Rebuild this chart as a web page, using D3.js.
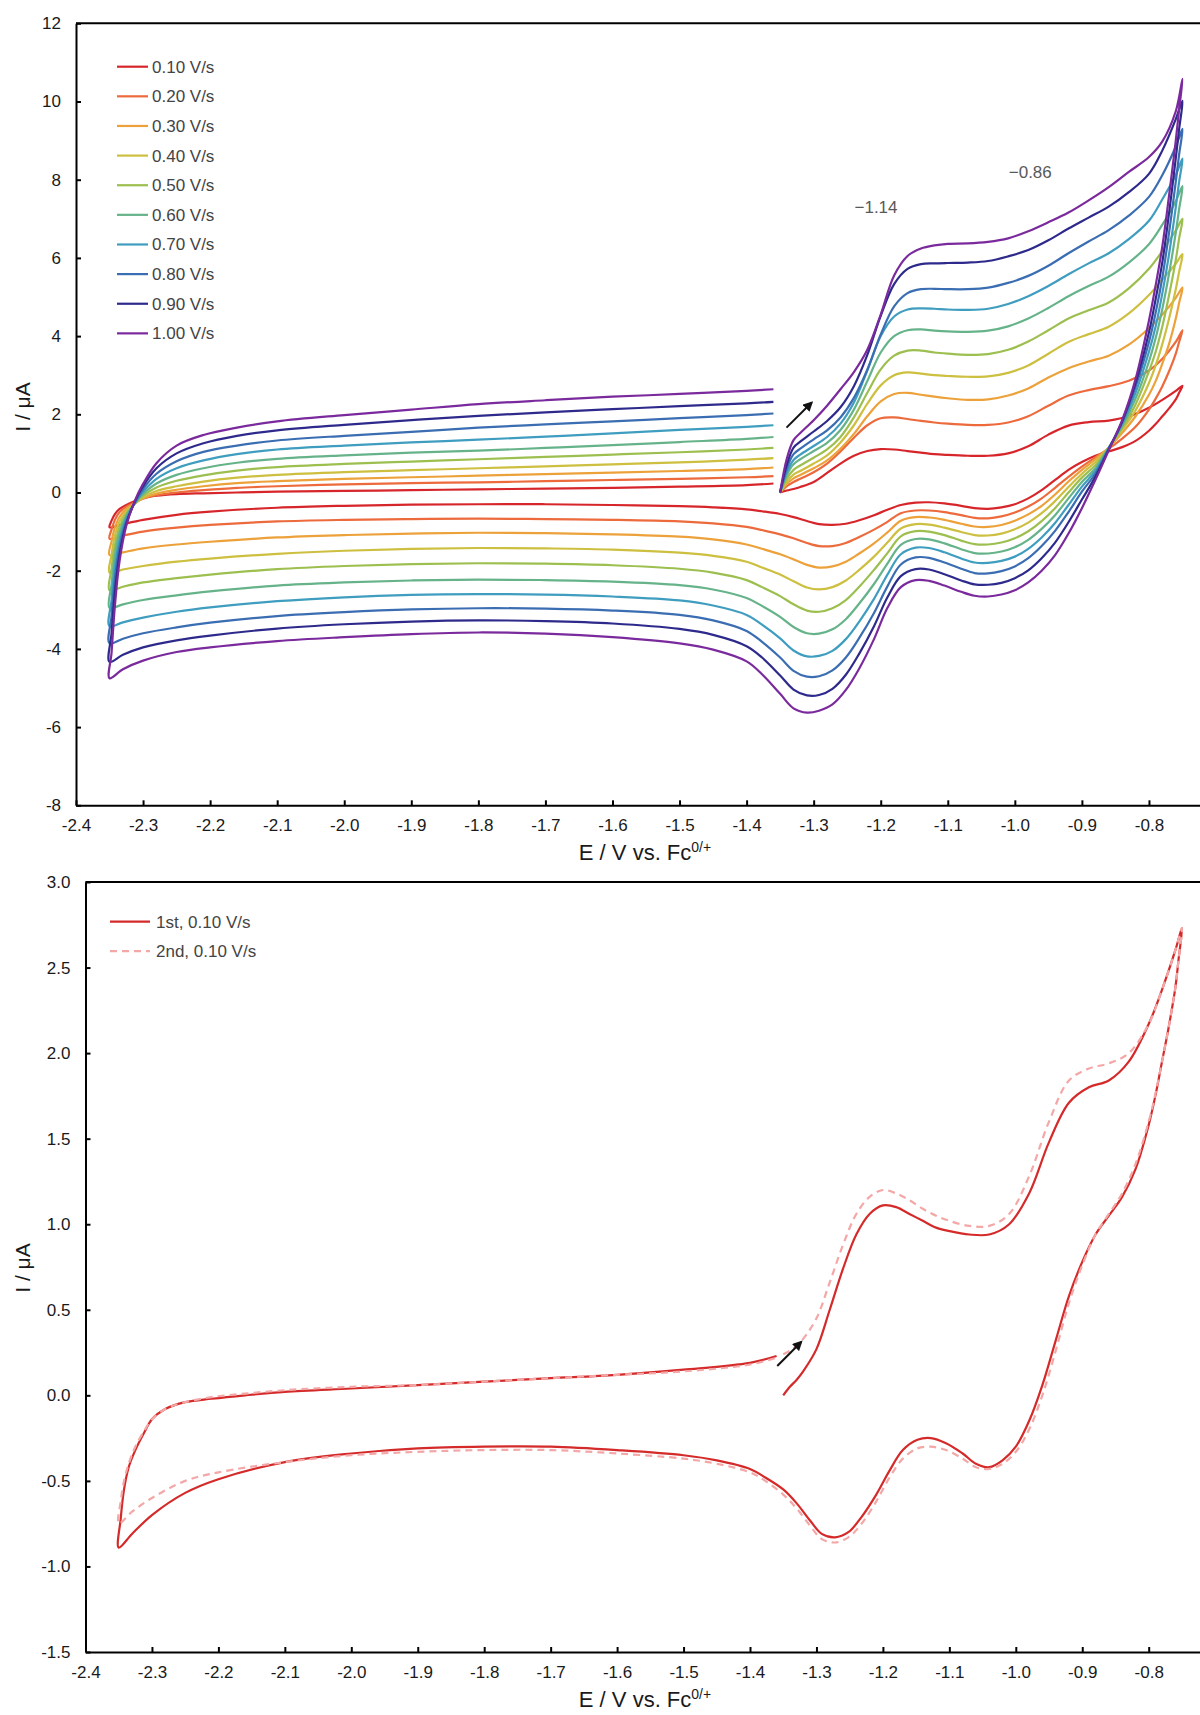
<!DOCTYPE html>
<html>
<head>
<meta charset="utf-8">
<script src="https://cdn.jsdelivr.net/npm/d3@7"></script>
<style>
  html, body { margin: 0; padding: 0; background: #ffffff; }
  svg { display: block; font-family: "Liberation Sans", Arial, Helvetica, sans-serif; }
</style>
</head>
<body>
<svg id="fig" width="1200" height="1715"></svg>
<script>
// ---------------------------------------------------------------------------
// Potential program of the cyclic voltammograms (V vs. Fc0/+):
// start at -1.35 V, sweep anodic to -0.75 V, back to -2.35 V, then up to -1.36 V.
// ---------------------------------------------------------------------------
const potentialForward = [-1.35, -1.34, -1.33, -1.32, -1.30, -1.28, -1.26, -1.24, -1.22, -1.20,
  -1.18, -1.16, -1.14, -1.12, -1.10, -1.07, -1.04, -1.01, -0.98, -0.95, -0.92, -0.89, -0.86,
  -0.83, -0.80, -0.78, -0.76, -0.75];
const potentialReverse = [-0.755, -0.76, -0.77, -0.78, -0.79, -0.80, -0.82, -0.84, -0.86, -0.88,
  -0.90, -0.92, -0.94, -0.96, -0.98, -1.00, -1.02, -1.04, -1.06, -1.08, -1.105, -1.128, -1.148, -1.17,
  -1.19, -1.21, -1.232, -1.252, -1.272, -1.292, -1.31, -1.33, -1.35, -1.377,
  -1.40, -1.45, -1.50, -1.60, -1.70, -1.80, -1.90, -2.00, -2.10, -2.20, -2.25, -2.30, -2.33, -2.35];
const potentialReturn = [-2.347, -2.342, -2.335, -2.325, -2.312, -2.30, -2.28, -2.25, -2.21, -2.16,
  -2.10, -2.00, -1.90, -1.80, -1.70, -1.60, -1.50, -1.40, -1.36];

// Currents (µA) along that program, one array per scan rate.
const current010 = [
  0.00, 0.05, 0.09, 0.14, 0.27, 0.50, 0.74, 0.94, 1.06, 1.11, 1.10, 1.06, 1.02, 0.98, 0.96, 0.94, 0.94, 1.00, 1.18, 1.48, 1.71, 1.80, 1.84, 1.95, 2.17, 2.37, 2.60, 2.73,
  2.55, 2.38, 2.15, 1.95, 1.75, 1.58, 1.32, 1.16, 1.05, 0.94,
  0.78, 0.58, 0.32, 0.06, -0.15, -0.30, -0.38, -0.42, -0.40, -0.34, -0.28, -0.25, -0.26, -0.32,
  -0.44, -0.58, -0.71, -0.80, -0.83, -0.81, -0.73, -0.63, -0.55, -0.48,
  -0.43, -0.38, -0.35, -0.32, -0.30, -0.30, -0.31, -0.34, -0.39, -0.49, -0.57, -0.70, -0.81, -0.89,
  -0.72, -0.55, -0.42, -0.32, -0.22, -0.14, -0.08, -0.04, -0.02, 0.00, 0.02, 0.04, 0.06, 0.08, 0.10, 0.12, 0.15, 0.19, 0.23];
const current020 = [
  0.00, 0.16, 0.27, 0.35, 0.52, 0.74, 1.05, 1.40, 1.72, 1.90, 1.92, 1.88, 1.83, 1.79, 1.76, 1.73, 1.73, 1.79, 1.95, 2.22, 2.48, 2.62, 2.72, 2.86, 3.12, 3.42, 3.85, 4.15,
  3.85, 3.55, 3.10, 2.72, 2.40, 2.12, 1.68, 1.38, 1.12, 0.90,
  0.66, 0.40, 0.12, -0.15, -0.36, -0.51, -0.61, -0.66, -0.65, -0.58, -0.50, -0.46, -0.46, -0.53,
  -0.75, -0.95, -1.14, -1.29, -1.37, -1.37, -1.29, -1.17, -1.07, -0.96,
  -0.88, -0.79, -0.74, -0.70, -0.68, -0.67, -0.68, -0.70, -0.74, -0.83, -0.90, -1.00, -1.10, -1.18,
  -0.95, -0.70, -0.50, -0.36, -0.25, -0.16, -0.07, 0.00, 0.06, 0.12, 0.16, 0.21, 0.24, 0.26, 0.29, 0.32, 0.35, 0.39, 0.42];
const current030 = [
  0.00, 0.22, 0.36, 0.45, 0.62, 0.82, 1.12, 1.50, 1.95, 2.33, 2.52, 2.55, 2.50, 2.45, 2.41, 2.37, 2.38, 2.48, 2.66, 2.94, 3.18, 3.35, 3.50, 3.78, 4.20, 4.55, 4.98, 5.24,
  4.85, 4.45, 3.80, 3.30, 2.85, 2.50, 1.95, 1.52, 1.15, 0.85,
  0.58, 0.28, -0.05, -0.34, -0.56, -0.72, -0.83, -0.88, -0.87, -0.80, -0.70, -0.64, -0.63, -0.72,
  -1.02, -1.30, -1.56, -1.77, -1.89, -1.92, -1.85, -1.71, -1.58, -1.44,
  -1.33, -1.20, -1.13, -1.07, -1.04, -1.03, -1.05, -1.09, -1.15, -1.26, -1.33, -1.43, -1.53, -1.60,
  -1.25, -0.90, -0.62, -0.42, -0.27, -0.15, -0.03, 0.07, 0.16, 0.24, 0.29, 0.35, 0.39, 0.43, 0.47, 0.51, 0.55, 0.60, 0.64];
const current040 = [
  0.00, 0.28, 0.46, 0.55, 0.74, 0.95, 1.28, 1.72, 2.27, 2.74, 3.00, 3.07, 3.04, 3.00, 2.98, 2.96, 2.97, 3.06, 3.25, 3.55, 3.85, 4.05, 4.24, 4.58, 5.05, 5.45, 5.85, 6.10,
  5.65, 5.20, 4.45, 3.80, 3.25, 2.80, 2.10, 1.60, 1.15, 0.78,
  0.48, 0.14, -0.22, -0.53, -0.77, -0.94, -1.05, -1.10, -1.09, -1.01, -0.90, -0.82, -0.81, -0.92,
  -1.28, -1.64, -1.98, -2.25, -2.42, -2.48, -2.43, -2.27, -2.10, -1.92,
  -1.77, -1.62, -1.54, -1.46, -1.43, -1.42, -1.44, -1.49, -1.57, -1.69, -1.77, -1.88, -1.97, -2.05,
  -1.60, -1.10, -0.74, -0.48, -0.28, -0.12, 0.04, 0.16, 0.28, 0.38, 0.45, 0.52, 0.57, 0.62, 0.67, 0.72, 0.77, 0.84, 0.88];
const current050 = [
  0.00, 0.36, 0.58, 0.69, 0.89, 1.10, 1.42, 1.92, 2.55, 3.15, 3.50, 3.63, 3.63, 3.58, 3.55, 3.52, 3.54, 3.65, 3.86, 4.15, 4.45, 4.66, 4.86, 5.22, 5.72, 6.18, 6.70, 7.00,
  6.50, 5.95, 5.05, 4.25, 3.60, 3.10, 2.25, 1.65, 1.15, 0.70,
  0.38, 0.00, -0.40, -0.73, -0.99, -1.17, -1.28, -1.33, -1.32, -1.23, -1.09, -1.00, -0.99, -1.12,
  -1.55, -1.98, -2.41, -2.75, -2.96, -3.05, -3.02, -2.86, -2.65, -2.42,
  -2.24, -2.05, -1.95, -1.86, -1.82, -1.81, -1.83, -1.88, -1.96, -2.10, -2.19, -2.30, -2.41, -2.50,
  -1.95, -1.35, -0.88, -0.54, -0.28, -0.08, 0.13, 0.30, 0.44, 0.56, 0.65, 0.73, 0.79, 0.85, 0.91, 0.97, 1.03, 1.10, 1.14];
const current060 = [
  0.00, 0.45, 0.72, 0.85, 1.06, 1.27, 1.60, 2.12, 2.85, 3.58, 4.00, 4.15, 4.17, 4.14, 4.12, 4.11, 4.14, 4.25, 4.45, 4.72, 5.02, 5.28, 5.52, 5.88, 6.35, 6.85, 7.45, 7.84,
  7.25, 6.65, 5.60, 4.70, 3.95, 3.35, 2.40, 1.70, 1.15, 0.62,
  0.27, -0.15, -0.58, -0.93, -1.21, -1.40, -1.51, -1.56, -1.55, -1.45, -1.30, -1.20, -1.19, -1.34,
  -1.82, -2.34, -2.84, -3.24, -3.50, -3.61, -3.60, -3.44, -3.18, -2.90,
  -2.70, -2.48, -2.37, -2.28, -2.24, -2.23, -2.25, -2.30, -2.38, -2.53, -2.63, -2.75, -2.86, -2.95,
  -2.35, -1.60, -1.02, -0.60, -0.27, -0.04, 0.23, 0.45, 0.62, 0.76, 0.86, 0.95, 1.02, 1.07, 1.14, 1.21, 1.29, 1.37, 1.42];
const current070 = [
  0.00, 0.52, 0.83, 0.97, 1.19, 1.42, 1.76, 2.30, 3.12, 4.00, 4.50, 4.68, 4.71, 4.70, 4.68, 4.67, 4.70, 4.82, 5.02, 5.28, 5.58, 5.86, 6.12, 6.48, 6.95, 7.50, 8.12, 8.54,
  7.95, 7.30, 6.10, 5.10, 4.25, 3.60, 2.55, 1.75, 1.13, 0.55,
  0.15, -0.32, -0.78, -1.15, -1.44, -1.64, -1.75, -1.80, -1.79, -1.69, -1.53, -1.42, -1.41, -1.58,
  -2.10, -2.72, -3.30, -3.75, -4.05, -4.18, -4.19, -4.04, -3.73, -3.38,
  -3.13, -2.89, -2.76, -2.66, -2.61, -2.60, -2.62, -2.68, -2.78, -2.94, -3.05, -3.20, -3.32, -3.42,
  -2.75, -1.90, -1.20, -0.66, -0.26, 0.02, 0.35, 0.62, 0.82, 0.98, 1.10, 1.20, 1.28, 1.35, 1.43, 1.51, 1.60, 1.68, 1.72];
const current080 = [
  0.00, 0.62, 0.98, 1.12, 1.36, 1.59, 1.92, 2.42, 3.14, 4.04, 4.76, 5.10, 5.20, 5.21, 5.20, 5.20, 5.24, 5.36, 5.54, 5.80, 6.12, 6.42, 6.71, 7.08, 7.56, 8.12, 8.85, 9.30,
  8.65, 7.95, 6.65, 5.50, 4.60, 3.85, 2.70, 1.80, 1.12, 0.48,
  0.02, -0.50, -0.98, -1.37, -1.68, -1.89, -2.01, -2.07, -2.06, -1.95, -1.79, -1.67, -1.66, -1.84,
  -2.40, -3.08, -3.72, -4.22, -4.55, -4.70, -4.71, -4.56, -4.22, -3.82,
  -3.54, -3.27, -3.13, -3.02, -2.97, -2.96, -2.99, -3.06, -3.16, -3.33, -3.45, -3.60, -3.74, -3.86,
  -3.15, -2.20, -1.38, -0.74, -0.25, 0.09, 0.48, 0.80, 1.04, 1.20, 1.33, 1.45, 1.55, 1.66, 1.74, 1.82, 1.90, 1.98, 2.02];
const current090 = [
  0.00, 0.72, 1.15, 1.30, 1.56, 1.83, 2.18, 2.72, 3.52, 4.52, 5.33, 5.72, 5.84, 5.86, 5.87, 5.88, 5.92, 6.04, 6.20, 6.45, 6.75, 7.03, 7.31, 7.68, 8.15, 8.75, 9.55, 10.02,
  9.30, 8.55, 7.15, 5.90, 4.95, 4.10, 2.80, 1.82, 1.10, 0.40,
  -0.18, -0.76, -1.28, -1.68, -1.99, -2.19, -2.31, -2.36, -2.35, -2.25, -2.09, -1.97, -1.96, -2.14,
  -2.68, -3.42, -4.12, -4.66, -5.02, -5.18, -5.19, -5.04, -4.68, -4.22,
  -3.93, -3.64, -3.49, -3.35, -3.29, -3.27, -3.30, -3.37, -3.48, -3.66, -3.78, -3.96, -4.15, -4.33,
  -3.60, -2.55, -1.57, -0.80, -0.22, 0.16, 0.62, 1.00, 1.26, 1.45, 1.59, 1.73, 1.85, 1.96, 2.05, 2.13, 2.21, 2.28, 2.32];
const current100 = [
  0.00, 0.87, 1.34, 1.52, 1.85, 2.22, 2.64, 3.08, 3.65, 4.55, 5.55, 6.05, 6.24, 6.32, 6.36, 6.37, 6.41, 6.50, 6.68, 6.91, 7.16, 7.47, 7.81, 8.20, 8.58, 8.98, 9.75, 10.58,
  9.80, 9.00, 7.60, 6.30, 5.30, 4.40, 2.90, 1.85, 1.08, 0.32,
  -0.40, -1.05, -1.60, -2.00, -2.30, -2.50, -2.61, -2.66, -2.64, -2.54, -2.38, -2.26, -2.24, -2.42,
  -2.95, -3.75, -4.50, -5.05, -5.42, -5.58, -5.63, -5.52, -5.15, -4.65,
  -4.32, -4.02, -3.86, -3.70, -3.61, -3.58, -3.62, -3.70, -3.80, -3.96, -4.08, -4.30, -4.52, -4.75,
  -4.10, -2.90, -1.75, -0.85, -0.20, 0.22, 0.75, 1.20, 1.47, 1.66, 1.82, 1.98, 2.12, 2.26, 2.36, 2.45, 2.52, 2.60, 2.64];

const scanRateLabels = ["0.10 V/s", "0.20 V/s", "0.30 V/s", "0.40 V/s", "0.50 V/s",
  "0.60 V/s", "0.70 V/s", "0.80 V/s", "0.90 V/s", "1.00 V/s"];
const scanCurrents = [current010, current020, current030, current040, current050,
  current060, current070, current080, current090, current100];

// Second cycle at 0.10 V/s (the first cycle is current010).
const cycleLabels = ["1st, 0.10 V/s", "2nd, 0.10 V/s"];
const current2ndCycle = [
  0.24, 0.26, 0.29, 0.33, 0.45, 0.66, 0.88, 1.06, 1.16, 1.20, 1.18, 1.14, 1.09, 1.05, 1.02, 0.99, 0.99, 1.06, 1.28, 1.60, 1.84, 1.91, 1.94, 2.00, 2.17, 2.37, 2.60, 2.73,
  2.55, 2.38, 2.15, 1.95, 1.76, 1.60, 1.35, 1.18, 1.06, 0.94,
  0.76, 0.54, 0.26, 0.00, -0.20, -0.33, -0.40, -0.43, -0.42, -0.37, -0.32, -0.30, -0.31, -0.37,
  -0.48, -0.62, -0.75, -0.83, -0.86, -0.84, -0.76, -0.66, -0.58, -0.50,
  -0.45, -0.40, -0.37, -0.34, -0.32, -0.32, -0.33, -0.35, -0.39, -0.45, -0.50, -0.60, -0.68, -0.75,
  -0.62, -0.50, -0.40, -0.30, -0.21, -0.14, -0.08, -0.04, -0.01, 0.01, 0.03, 0.05, 0.06, 0.08, 0.10, 0.12, 0.14, 0.18, 0.22];

// Axis ticks and their printed labels.
const xTickValues = [-2.4, -2.3, -2.2, -2.1, -2.0, -1.9, -1.8, -1.7, -1.6, -1.5, -1.4, -1.3, -1.2, -1.1, -1.0, -0.9, -0.8];
const xTickLabels = ["-2.4", "-2.3", "-2.2", "-2.1", "-2.0", "-1.9", "-1.8", "-1.7", "-1.6", "-1.5",
  "-1.4", "-1.3", "-1.2", "-1.1", "-1.0", "-0.9", "-0.8"];
const yTickValuesTop = [12, 10, 8, 6, 4, 2, 0, -2, -4, -6, -8];
const yTickLabelsTop = ["12", "10", "8", "6", "4", "2", "0", "-2", "-4", "-6", "-8"];
const yTickValuesBottom = [3.0, 2.5, 2.0, 1.5, 1.0, 0.5, 0.0, -0.5, -1.0, -1.5];
const yTickLabelsBottom = ["3.0", "2.5", "2.0", "1.5", "1.0", "0.5", "0.0", "-0.5", "-1.0", "-1.5"];

// Peak annotations in the upper panel: [text, E, I].
const peakNotes = [["\u22121.14", -1.207, 7.30], ["\u22120.86", -0.977, 8.20]];
// Sweep-direction arrows: [E0, I0, E1, I1].
const arrowUpper = [-1.3405, 1.66, -1.303, 2.30];
const arrowLower = [-1.359, 0.171, -1.323, 0.312];

// ---------------------------------------------------------------------------
// Styling
// ---------------------------------------------------------------------------
const scanColors = ["#d7262b", "#ec6a3c", "#eca13a", "#cdbf3f", "#9cbf4f",
  "#66b38a", "#3f9dbf", "#3b6db2", "#2e2a8c", "#7a2a9c"];
const cycleColors = ["#d42a2a", "#f3a7a7"];
const FONT = "'Liberation Sans', Arial, Helvetica, sans-serif";

const svg = d3.select("#fig");
const sweep = potentialForward.concat(potentialReverse, potentialReturn);
const toPoints = cur => sweep.map((e, i) => [e, cur[i]]);

// Arrow head marker
svg.append("defs").append("marker")
  .attr("id", "arrowHead")
  .attr("viewBox", "0 0 10 10")
  .attr("refX", 8).attr("refY", 5)
  .attr("markerWidth", 5).attr("markerHeight", 5)
  .attr("markerUnits", "strokeWidth")
  .attr("orient", "auto")
  .append("path").attr("d", "M0,0 L10,5 L0,10 Z").attr("fill", "#111");

function buildPanel(p) {
  const x = d3.scaleLinear().domain([-2.4, -0.7]).range([p.left, p.left + 1.7 * p.pxPerVolt]);
  const y = d3.scaleLinear().domain(p.yDomain).range([p.bottom, p.top]);
  const g = svg.append("g");

  // frame: top border
  g.append("line")
    .attr("x1", p.left).attr("x2", 1200)
    .attr("y1", p.top).attr("y2", p.top)
    .attr("stroke", "#000").attr("stroke-width", 2);

  const xAxis = d3.axisBottom(x).tickValues(xTickValues)
    .tickFormat((d, i) => xTickLabels[i])
    .tickSizeInner(-5).tickSizeOuter(0).tickPadding(14);
  const yAxis = d3.axisLeft(y).tickValues(p.yTicks)
    .tickFormat((d, i) => p.yLabels[i])
    .tickSizeInner(-5).tickSizeOuter(0).tickPadding(15);

  const gx = g.append("g").attr("transform", `translate(0,${p.bottom})`).call(xAxis);
  const gy = g.append("g").attr("transform", `translate(${p.left},0)`).call(yAxis);
  [gx, gy].forEach(a => {
    a.attr("font-family", FONT).attr("font-size", 17);
    a.select(".domain").attr("stroke", "#000").attr("stroke-width", 2);
    a.selectAll(".tick line").attr("stroke", "#000").attr("stroke-width", 2);
    a.selectAll(".tick text").attr("fill", "#1a1a1a");
  });

  // axis titles
  const xt = g.append("text")
    .attr("x", 645).attr("y", p.bottom + 55)
    .attr("text-anchor", "middle")
    .attr("font-family", FONT).attr("font-size", 22).attr("fill", "#1a1a1a");
  xt.append("tspan").text("E / V vs. Fc");
  xt.append("tspan").attr("font-size", 14).attr("dy", -8).text("0/+");

  g.append("text")
    .attr("transform", `translate(${23},${p.titleY}) rotate(-90)`)
    .attr("text-anchor", "middle").attr("dy", "0.35em")
    .attr("font-family", FONT).attr("font-size", 21).attr("fill", "#1a1a1a")
    .text("I / \u03bcA");

  return { g, x, y };
}

// ---------------------------- upper panel ---------------------------------
const upper = buildPanel({
  left: 76, pxPerVolt: 670.6, top: 23.3, bottom: 805.3, titleY: 407,
  yDomain: [-8, 12], yTicks: yTickValuesTop, yLabels: yTickLabelsTop
});
const lineUpper = d3.line().x(d => upper.x(d[0])).y(d => upper.y(d[1]))
  .curve(d3.curveCatmullRom.alpha(0.5));

upper.g.append("g").selectAll("path")
  .data(scanCurrents)
  .join("path")
  .attr("d", d => lineUpper(toPoints(d)))
  .attr("fill", "none")
  .attr("stroke", (d, i) => scanColors[i])
  .attr("stroke-width", 2.2)
  .attr("stroke-linejoin", "round");

// legend
const legUpper = upper.g.append("g");
scanRateLabels.forEach((lab, i) => {
  const yy = 66.7 + i * 29.63;
  legUpper.append("line").attr("x1", 117).attr("x2", 148).attr("y1", yy).attr("y2", yy)
    .attr("stroke", scanColors[i]).attr("stroke-width", 2.2);
  legUpper.append("text").attr("x", 152).attr("y", yy).attr("dy", "0.35em")
    .attr("font-family", FONT).attr("font-size", 17).attr("fill", "#444").text(lab);
});

// annotations
peakNotes.forEach(([t, e, i]) => {
  upper.g.append("text").attr("x", upper.x(e)).attr("y", upper.y(i)).attr("dy", "0.35em")
    .attr("text-anchor", "middle").attr("font-family", FONT).attr("font-size", 17)
    .attr("fill", "#595959").text(t);
});
upper.g.append("line")
  .attr("x1", upper.x(arrowUpper[0])).attr("y1", upper.y(arrowUpper[1]))
  .attr("x2", upper.x(arrowUpper[2])).attr("y2", upper.y(arrowUpper[3]))
  .attr("stroke", "#111").attr("stroke-width", 2).attr("marker-end", "url(#arrowHead)");

// ---------------------------- lower panel ---------------------------------
const lower = buildPanel({
  left: 85.5, pxPerVolt: 664.5, top: 882, bottom: 1652, titleY: 1268,
  yDomain: [-1.5, 3.0], yTicks: yTickValuesBottom, yLabels: yTickLabelsBottom
});
const lineLower = d3.line().x(d => lower.x(d[0])).y(d => lower.y(d[1]))
  .curve(d3.curveCatmullRom.alpha(0.5));

const cycles = [current010, current2ndCycle];
lower.g.append("g").selectAll("path")
  .data(cycles)
  .join("path")
  .attr("d", d => lineLower(toPoints(d)))
  .attr("fill", "none")
  .attr("stroke", (d, i) => cycleColors[i])
  .attr("stroke-width", 2.2)
  .attr("stroke-dasharray", (d, i) => i === 1 ? "7,5" : null)
  .attr("stroke-linejoin", "round");

const legLower = lower.g.append("g");
cycleLabels.forEach((lab, i) => {
  const yy = 921.7 + i * 29.5;
  legLower.append("line").attr("x1", 110).attr("x2", 150).attr("y1", yy).attr("y2", yy)
    .attr("stroke", cycleColors[i]).attr("stroke-width", 2.2)
    .attr("stroke-dasharray", i === 1 ? "7,5" : null);
  legLower.append("text").attr("x", 156).attr("y", yy).attr("dy", "0.35em")
    .attr("font-family", FONT).attr("font-size", 17).attr("fill", "#444").text(lab);
});

lower.g.append("line")
  .attr("x1", lower.x(arrowLower[0])).attr("y1", lower.y(arrowLower[1]))
  .attr("x2", lower.x(arrowLower[2])).attr("y2", lower.y(arrowLower[3]))
  .attr("stroke", "#111").attr("stroke-width", 2).attr("marker-end", "url(#arrowHead)");
</script>
</body>
</html>
